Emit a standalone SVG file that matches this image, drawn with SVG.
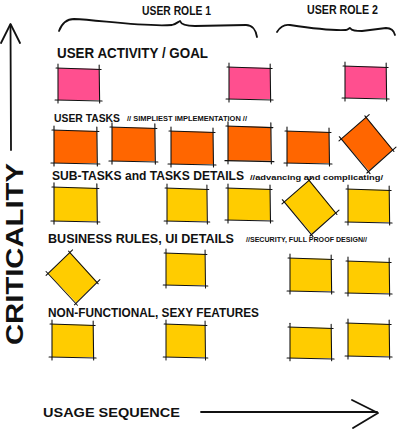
<svg xmlns="http://www.w3.org/2000/svg" xmlns:xlink="http://www.w3.org/1999/xlink" width="400" height="429" viewBox="0 0 400 429">
<style>
.t{font-family:"Liberation Sans",Arial,sans-serif;font-weight:bold;fill:#111;}
.s{font-family:"Liberation Sans",Arial,sans-serif;font-weight:bold;fill:#111;font-size:8px;}
.ln{fill:none;stroke:#111;stroke-width:1.8;stroke-linecap:round;stroke-linejoin:round;}
.pk{fill:#FF4F8F;}
.or{fill:#FF6600;}
.ye{fill:#FFCC00;}
</style>
<defs>
<g id="sq">
<polygon points="0,0 42,1 42,33 0,33" stroke="none"/>
<g fill="none" stroke="#111" stroke-width="1.1" stroke-linecap="round">
<path d="M-2,0 L44,1.5"/>
<path d="M42,-3 L42.5,36"/>
<path d="M-3,33 L45,34"/>
<path d="M0,-4 L0,36"/>
</g>
</g>
</defs>
<rect width="400" height="429" fill="#fff"/>

<g id="axes">
<path class="ln" d="M11,150 L10.5,25"/>
<path class="ln" d="M1,43 L10.5,24 L20,43"/>
<path class="ln" d="M201,412 L377,412"/>
<path class="ln" d="M352,400 L378,413 L353,428"/>
</g>

<g id="braces">
<path class="ln" stroke-width="1.2" d="M59,31 C62,23 67,19 74,19 C100,20 140,27 172,25 C176,24 178,22 180,21 C181,24 185,26 195,26 L246,25 C252,25 256,30 257,37"/>
<path class="ln" stroke-width="1.2" d="M277,32 C280,27 284,24 290,25 C310,28 330,31 346,30 C348,30 349,28 350,28 C352,31 356,31 362,31 L386,28 C391,28 394,31 395,35"/>
</g>

<g id="labels">
<text class="t" x="142" y="15" font-size="12" textLength="69" lengthAdjust="spacingAndGlyphs">USER ROLE 1</text>
<text class="t" x="307" y="14" font-size="12" textLength="71" lengthAdjust="spacingAndGlyphs">USER ROLE 2</text>
<text class="t" x="57" y="58" font-size="14" textLength="151" lengthAdjust="spacingAndGlyphs">USER ACTIVITY / GOAL</text>
<text class="t" x="54" y="122" font-size="11" textLength="66" lengthAdjust="spacingAndGlyphs">USER TASKS</text>
<text class="s" x="127" y="121" textLength="120" lengthAdjust="spacingAndGlyphs">// SIMPLIEST IMPLEMENTATION //</text>
<text class="t" x="52" y="180" font-size="12" textLength="192" lengthAdjust="spacingAndGlyphs">SUB-TASKS and TASKS DETAILS</text>
<text class="s" x="250" y="180" font-size="9" textLength="133" lengthAdjust="spacingAndGlyphs">//advancing and complicating/</text>
<text class="t" x="48" y="243" font-size="13" textLength="186" lengthAdjust="spacingAndGlyphs">BUSINESS RULES, UI DETAILS</text>
<text class="s" x="246" y="242" textLength="121" lengthAdjust="spacingAndGlyphs">//SECURITY, FULL PROOF DESIGN//</text>
<text class="t" x="48" y="317" font-size="13" textLength="211" lengthAdjust="spacingAndGlyphs">NON-FUNCTIONAL, SEXY FEATURES</text>
<text class="t" x="43" y="417" font-size="13" textLength="137" lengthAdjust="spacingAndGlyphs">USAGE SEQUENCE</text>
<text class="t" x="0" y="0" font-size="24" textLength="182" lengthAdjust="spacingAndGlyphs" transform="translate(23,345) rotate(-90)">CRITICALITY</text>
</g>

<g id="row1">
<use xlink:href="#sq" class="pk" transform="translate(58,68) scale(0.98,0.97)"/>
<use xlink:href="#sq" class="pk" transform="translate(229,67) scale(0.98,0.97)"/>
<use xlink:href="#sq" class="pk" transform="translate(345,66) scale(0.98,0.97)"/>
</g>
<g id="row2">
<use xlink:href="#sq" class="or" transform="translate(54,130) scale(1.02,1)"/>
<use xlink:href="#sq" class="or" transform="translate(112,127) scale(1.02,1.03)"/>
<use xlink:href="#sq" class="or" transform="translate(171,131)"/>
<use xlink:href="#sq" class="or" transform="translate(228,126) scale(1.02,1.05)"/>
<use xlink:href="#sq" class="or" transform="translate(287,131) scale(1,0.97)"/>
<use xlink:href="#sq" class="or" transform="translate(367.5,144) rotate(49) translate(-21,-16.5)"/>
</g>
<g id="row3">
<use xlink:href="#sq" class="ye" transform="translate(54,187) scale(1.02,1.03)"/>
<use xlink:href="#sq" class="ye" transform="translate(167,188) scale(0.95,1)"/>
<use xlink:href="#sq" class="ye" transform="translate(228,188) scale(1,0.97)"/>
<use xlink:href="#sq" class="ye" transform="translate(310.5,207) rotate(49) translate(-21,-16.5)"/>
<use xlink:href="#sq" class="ye" transform="translate(348,189) scale(0.98,1)"/>
</g>
<g id="row4">
<use xlink:href="#sq" class="ye" transform="translate(73,277.5) rotate(46) scale(0.96,0.92) translate(-21,-16.5)"/>
<use xlink:href="#sq" class="ye" transform="translate(166,253) scale(0.93,0.97)"/>
<use xlink:href="#sq" class="ye" transform="translate(290,258) scale(0.98,1)"/>
<use xlink:href="#sq" class="ye" transform="translate(348,261) scale(0.98,0.97)"/>
</g>
<g id="row5">
<use xlink:href="#sq" class="ye" transform="translate(52,324) scale(0.98,1)"/>
<use xlink:href="#sq" class="ye" transform="translate(166,324) scale(0.93,1)"/>
<use xlink:href="#sq" class="ye" transform="translate(290,327) scale(0.98,0.94)"/>
<use xlink:href="#sq" class="ye" transform="translate(348,323) scale(0.98,1)"/>
</g>
</svg>
